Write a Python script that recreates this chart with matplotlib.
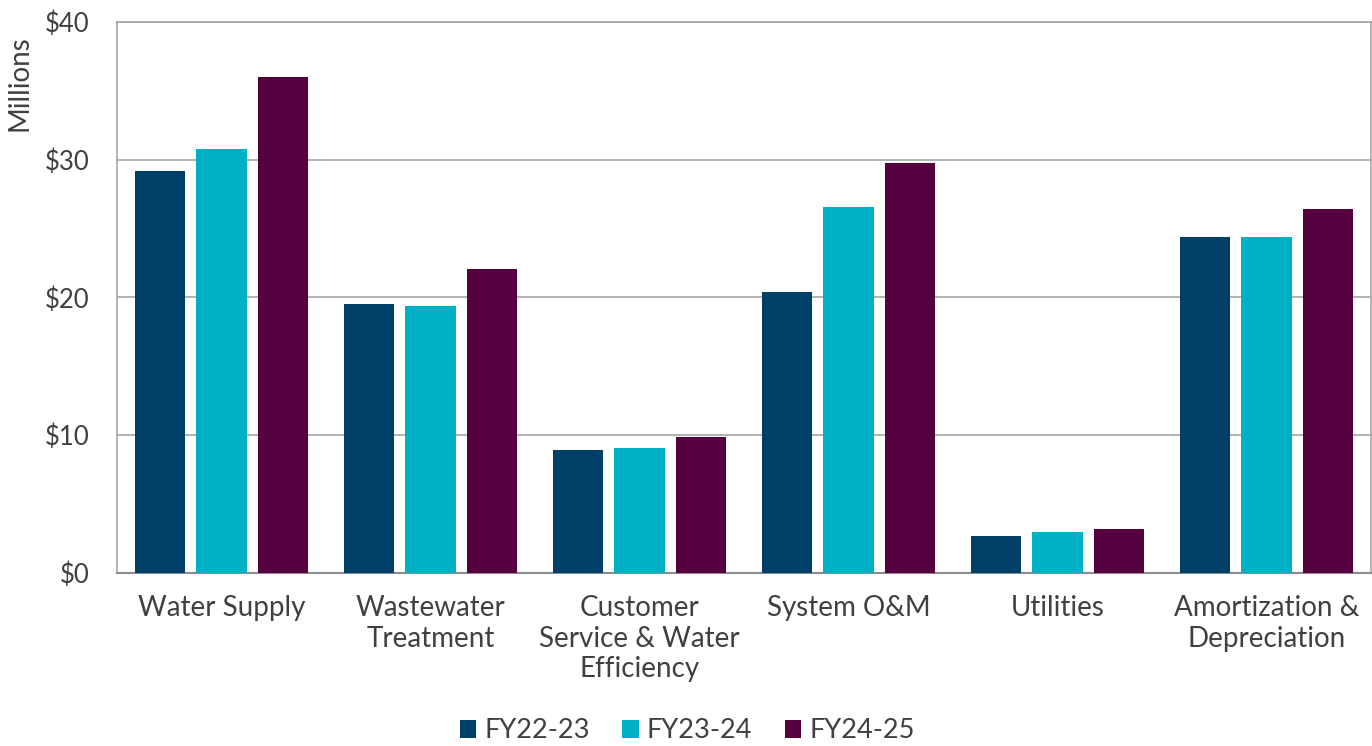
import matplotlib
matplotlib.use("Agg")
import matplotlib.pyplot as plt
import numpy as np

categories = ["Water Supply", "Wastewater\nTreatment", "Customer\nService & Water\nEfficiency",
              "System O&M", "Utilities", "Amortization &\nDepreciation"]
series_names = ["FY22-23", "FY23-24", "FY24-25"]
fy22_23 = [29.2, 19.5, 8.9, 20.4, 2.7, 24.4]
fy23_24 = [30.8, 19.4, 9.1, 26.6, 3.0, 24.4]
fy24_25 = [36.0, 22.1, 9.9, 29.8, 3.2, 26.4]
yticks = [0, 10, 20, 30, 40]
ytick_labels = ["$0", "$10", "$20", "$30", "$40"]

colors = ["#003F66", "#00B0C6", "#55003F"]
text_color = "#404040"
font = "Lato"

fig = plt.figure(figsize=(13.72, 7.46), dpi=100)
ax = fig.add_axes([117/1372, 1-573/746, 1254/1372, 551/746])

x = np.arange(len(categories))
w = 0.24
step = 0.295
for i, (vals, c, name) in enumerate(zip([fy22_23, fy23_24, fy24_25], colors, series_names)):
    ax.bar(x + (i-1)*step, vals, width=w, color=c, label=name, zorder=3)

ax.set_xlim(-0.5, len(categories)-0.5)
ax.set_ylim(0, 40)
ax.set_yticks(yticks)
ax.set_yticklabels(ytick_labels, fontsize=18.5, color=text_color, family=font)
ax.set_xticks(x)
ax.set_xticklabels(categories, fontsize=20, color=text_color, family=font, linespacing=1.22)
ax.tick_params(axis="both", length=0)
ax.tick_params(axis="x", pad=16)
ax.tick_params(axis="y", pad=20)
ax.grid(axis="y", color="#A6A6A6", linewidth=1.2, zorder=0)
for s in ["left", "top", "right"]:
    ax.spines[s].set_color("#A6A6A6")
    ax.spines[s].set_linewidth(1.2)
ax.spines["bottom"].set_color("#8C8C8C")
ax.spines["bottom"].set_linewidth(1.5)

fig.text(20/1372, 1-83/746, "Millions", rotation=90, ha="center", va="center",
         fontsize=20, color=text_color, family=font)

leg = fig.legend(loc="center", bbox_to_anchor=(0.501, 1-731/746), ncol=3, frameon=False,
                 handlelength=0.6, handleheight=0.6, handletextpad=0.3,
                 columnspacing=1.2, prop={"family": font, "size": 19.5})
for t in leg.get_texts():
    t.set_color(text_color)

fig.savefig("out.png", dpi=100, facecolor="white")
